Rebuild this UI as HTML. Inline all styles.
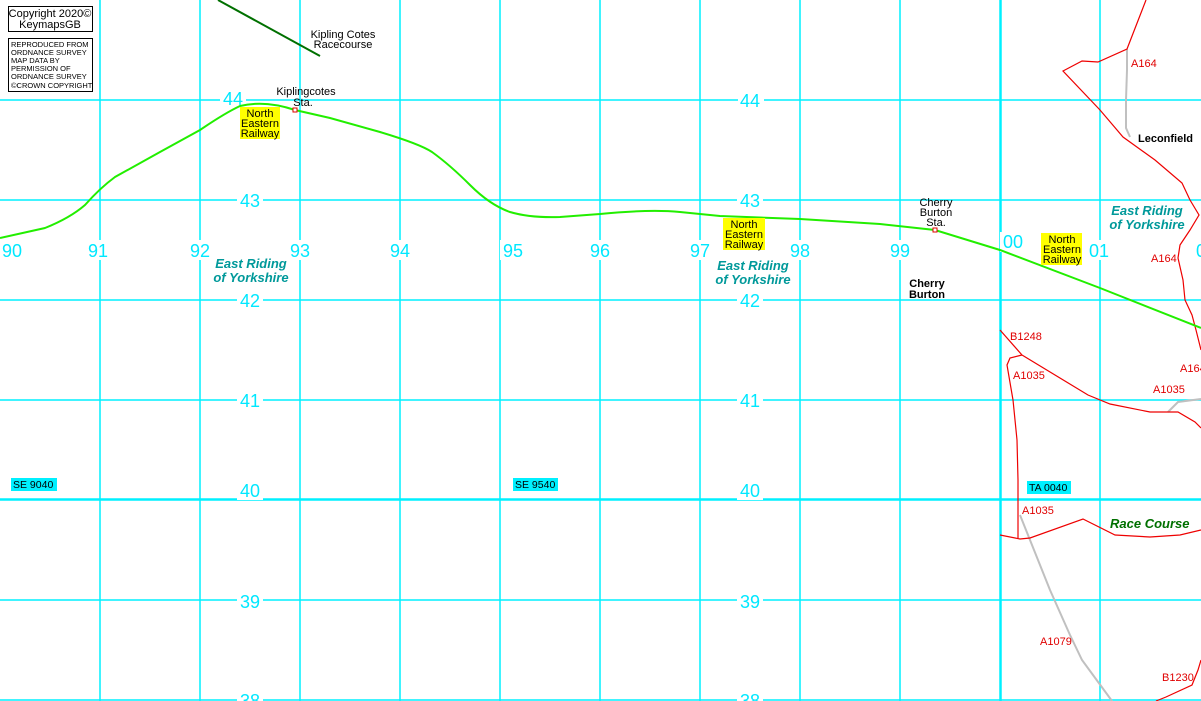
<!DOCTYPE html>
<html><head><meta charset="utf-8"><style>
html,body{margin:0;padding:0;background:#fff;}
svg{display:block;}
.g{font-family:"Liberation Sans",sans-serif;font-size:18px;fill:#00e8ff;text-anchor:middle;}
.s{font-family:"Liberation Sans",sans-serif;font-size:11px;fill:#000;text-anchor:middle;}
.r{font-family:"Liberation Sans",sans-serif;font-size:11px;fill:#e00000;}
.er{font-family:"Liberation Sans",sans-serif;font-size:13px;font-style:italic;font-weight:bold;fill:#00999a;text-anchor:middle;}
.b{font-family:"Liberation Sans",sans-serif;font-size:11px;font-weight:bold;fill:#000;}
</style></head><body>
<svg width="1201" height="701" viewBox="0 0 1201 701" xmlns="http://www.w3.org/2000/svg">
<rect width="1201" height="701" fill="#fff"/>
<g stroke="#00f0ff" stroke-width="1.5">
<line x1="100" y1="0" x2="100" y2="701"/><line x1="200" y1="0" x2="200" y2="701"/>
<line x1="300" y1="0" x2="300" y2="701"/><line x1="400" y1="0" x2="400" y2="701"/>
<line x1="500" y1="0" x2="500" y2="701"/><line x1="600" y1="0" x2="600" y2="701"/>
<line x1="700" y1="0" x2="700" y2="701"/><line x1="800" y1="0" x2="800" y2="701"/>
<line x1="900" y1="0" x2="900" y2="701"/><line x1="1100" y1="0" x2="1100" y2="701"/>
<line x1="1000.5" y1="0" x2="1000.5" y2="701" stroke-width="2.5"/>
<line x1="0" y1="100" x2="1201" y2="100"/><line x1="0" y1="200" x2="1201" y2="200"/>
<line x1="0" y1="300" x2="1201" y2="300"/><line x1="0" y1="400" x2="1201" y2="400"/>
<line x1="0" y1="600" x2="1201" y2="600"/><line x1="0" y1="700" x2="1201" y2="700"/>
<line x1="0" y1="499.5" x2="1201" y2="499.5" stroke-width="2.5"/>
</g>
<!-- label backgrounds -->
<g fill="#fff">
<rect x="220" y="88" width="26" height="20"/><rect x="738" y="90" width="26" height="20"/>
<rect x="237" y="190" width="26" height="20"/><rect x="737" y="190" width="26" height="20"/>
<rect x="237" y="290" width="26" height="20"/><rect x="737" y="290" width="26" height="20"/>
<rect x="237" y="390" width="26" height="20"/><rect x="737" y="390" width="26" height="20"/>
<rect x="237" y="480" width="26" height="20"/><rect x="737" y="480" width="26" height="20"/>
<rect x="237" y="591" width="26" height="20"/><rect x="737" y="591" width="26" height="20"/>
<rect x="237" y="690" width="26" height="11"/><rect x="737" y="690" width="26" height="11"/>
<rect x="0" y="240" width="26" height="20"/><rect x="86" y="240" width="26" height="20"/>
<rect x="187" y="240" width="26" height="20"/><rect x="287" y="240" width="26" height="20"/>
<rect x="387" y="240" width="26" height="20"/><rect x="500" y="240" width="26" height="20"/>
<rect x="587" y="240" width="26" height="20"/><rect x="687" y="240" width="26" height="20"/>
<rect x="787" y="240" width="26" height="20"/><rect x="887" y="240" width="26" height="20"/>
<rect x="1000" y="232" width="26" height="20"/><rect x="1087" y="240" width="26" height="20"/>
<rect x="1188" y="240" width="13" height="20"/>
</g>
<g class="g">
<text x="233" y="105">44</text><text x="750" y="107">44</text>
<text x="250" y="207">43</text><text x="750" y="207">43</text>
<text x="250" y="307">42</text><text x="750" y="307">42</text>
<text x="250" y="407">41</text><text x="750" y="407">41</text>
<text x="250" y="497">40</text><text x="750" y="497">40</text>
<text x="250" y="608">39</text><text x="750" y="608">39</text>
<text x="250" y="707">38</text><text x="750" y="707">38</text>
<text x="12" y="257">90</text><text x="98" y="257">91</text><text x="200" y="257">92</text>
<text x="300" y="257">93</text><text x="400" y="257">94</text><text x="513" y="257">95</text>
<text x="600" y="257">96</text><text x="700" y="257">97</text><text x="800" y="257">98</text>
<text x="900" y="257">99</text><text x="1013" y="248">00</text><text x="1099" y="257">01</text>
<text x="1201" y="257">0</text>
</g>
<!-- copyright boxes -->
<rect x="8.5" y="6.5" width="84" height="25" fill="#fff" stroke="#000"/>
<text x="50" y="17" class="s" font-size="10">Copyright 2020©</text>
<text x="50" y="28" class="s" font-size="10">KeymapsGB</text>
<rect x="8.5" y="38.5" width="84" height="53" fill="#fff" stroke="#000"/>
<g font-family="Liberation Sans,sans-serif" font-size="7.5" fill="#000">
<text x="11" y="47">REPRODUCED FROM</text><text x="11" y="55">ORDNANCE SURVEY</text>
<text x="11" y="63">MAP DATA BY</text><text x="11" y="71">PERMISSION OF</text>
<text x="11" y="79">ORDNANCE SURVEY</text><text x="11" y="88">©CROWN COPYRIGHT</text>
</g>
<!-- kipling line -->
<line x1="218" y1="0" x2="320" y2="56" stroke="#007000" stroke-width="2"/>
<text x="343" y="38" class="s">Kipling Cotes</text><text x="343" y="48" class="s">Racecourse</text>
<!-- roads -->
<g fill="none" stroke="#c0c0c0" stroke-width="2">
<polyline points="1127,49 1127,70 1126,100 1126,128 1130,137"/>
<polyline points="1168,412 1178,402 1201,399"/>
<polyline points="1020,515 1030,540 1050,590 1070,635 1082,660 1112,701"/>
</g>
<g fill="none" stroke="#ee0000" stroke-width="1.2">
<polyline points="1146,0 1127,49 1098,62 1082,61 1063,71 1100,110 1123,137 1155,160 1182,183 1190,200 1199,215 1190,230 1180,245 1178,258 1183,280 1185,300 1192,315 1196,330 1201,350"/>
<polyline points="1000,330 1022,355"/>
<polyline points="1022,355 1010,358 1007,365 1013,400 1017,440 1018,480 1018,538"/>
<polyline points="1022,355 1088,395 1110,404 1150,412 1178,412 1195,422 1201,428"/>
<polyline points="1000,535 1020,539 1030,538 1083,519 1115,535 1150,537 1180,535 1201,530"/>
<polyline points="1156,701 1166,697 1192,685 1198,670 1201,660"/>
</g>
<!-- railway -->
<path d="M0,238 L45,228 Q70,218 85,205 Q100,188 115,177 L160,152 L200,130 Q225,113 240,106 Q265,100 295,110 L330,118 L380,132 Q420,144 432,152 Q450,165 470,185 Q490,205 510,212 Q530,218 560,217 L600,214 Q650,209 680,212 L720,216 L800,219 L880,224 L935,230 L1000,250 L1100,288 L1201,328" fill="none" stroke="#22ee00" stroke-width="2"/>
<rect x="293" y="108" width="4" height="4" fill="#fff" stroke="#e00000"/>
<rect x="933" y="228" width="4" height="4" fill="#fff" stroke="#e00000"/>
<!-- yellow labels -->
<g fill="#ffff00"><rect x="240" y="107" width="40" height="32"/><rect x="723" y="218" width="42" height="32"/><rect x="1041" y="233" width="41" height="32"/></g>
<g class="s">
<text x="260" y="117">North</text><text x="260" y="127">Eastern</text><text x="260" y="137">Railway</text>
<text x="744" y="228">North</text><text x="744" y="238">Eastern</text><text x="744" y="248">Railway</text>
<text x="1062" y="243">North</text><text x="1062" y="253">Eastern</text><text x="1062" y="263">Railway</text>
<text x="306" y="95">Kiplingcotes</text><text x="303" y="106">Sta.</text>
<text x="936" y="206">Cherry</text><text x="936" y="216">Burton</text><text x="936" y="226">Sta.</text>
</g>
<text x="927" y="287" class="b" text-anchor="middle">Cherry</text>
<text x="927" y="298" class="b" text-anchor="middle">Burton</text>
<text x="1138" y="142" class="b">Leconfield</text>
<g class="er">
<text x="251" y="268">East Riding</text><text x="251" y="282">of Yorkshire</text>
<text x="753" y="270">East Riding</text><text x="753" y="284">of Yorkshire</text>
<text x="1147" y="215">East Riding</text><text x="1147" y="229">of Yorkshire</text>
</g>
<text x="1110" y="528" font-family="Liberation Sans,sans-serif" font-size="13" font-style="italic" font-weight="bold" fill="#007000">Race Course</text>
<g class="r">
<text x="1131" y="67">A164</text><text x="1151" y="262">A164</text><text x="1010" y="340">B1248</text>
<text x="1013" y="379">A1035</text><text x="1180" y="372">A164</text><text x="1153" y="393">A1035</text>
<text x="1022" y="514">A1035</text><text x="1040" y="645">A1079</text><text x="1162" y="681">B1230</text>
</g>
<!-- grid ref boxes -->
<g fill="#00f0ff"><rect x="11" y="478" width="46" height="13"/><rect x="513" y="478" width="45" height="13"/><rect x="1027" y="481" width="44" height="13"/></g>
<g font-family="Liberation Sans,sans-serif" font-size="10.5" fill="#000">
<text x="13" y="488">SE 9040</text><text x="515" y="488">SE 9540</text><text x="1029" y="491">TA 0040</text>
</g>
</svg>
</body></html>
